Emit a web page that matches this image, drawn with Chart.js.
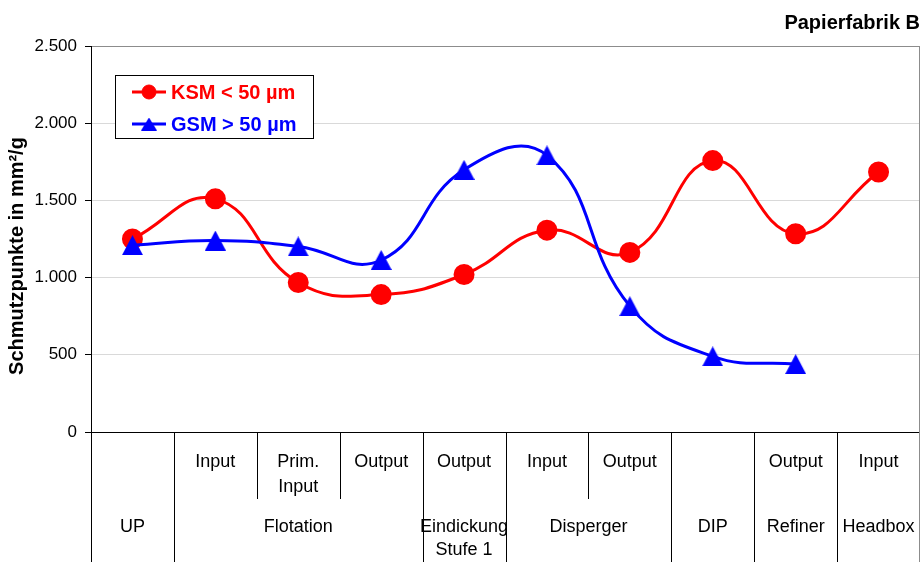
<!DOCTYPE html>
<html>
<head>
<meta charset="utf-8">
<script src="https://cdn.jsdelivr.net/npm/chart.js@4.4.0/dist/chart.umd.min.js"></script>
<style>
  html, body { margin: 0; padding: 0; background: #fff; }
  #wrap { width: 921px; height: 562px; }
</style>
</head>
<body>
<div id="wrap"><canvas id="dirtChart"></canvas></div>
<script>
// Messstellen: obere Zeile (Stelle), untere Zeile (Aggregat)
const stations = ['', 'Input', ['Prim.', 'Input'], 'Output', 'Output', 'Input', 'Output', '', 'Output', 'Input'];
const units = ['UP', 'Flotation', 'Flotation', 'Flotation', 'Eindickung\nStufe 1', 'Disperger', 'Disperger', 'DIP', 'Refiner', 'Headbox'];

// Schmutzpunktfläche in mm²/g
const ksm = [1250, 1510, 968, 890, 1020, 1307, 1163, 1758, 1284, 1684];
const gsm = [1210, 1240, 1202, 1114, 1698, 1792, 815, 490, 440, null];

const yTicks = [0, 500, 1000, 1500, 2000, 2500];

const FONT = '"Liberation Sans", Arial, sans-serif';

function fmtDe(v) {
  return String(v).replace(/\B(?=(\d{3})+(?!\d))/g, '.');
}

// Dreieck als Bild, mittig auf dem Punkt (wie Excel-Marker)
function makeTriangle(w, h, color) {
  const c = document.createElement('canvas');
  c.width = w;
  c.height = h;
  const g = c.getContext('2d');
  g.fillStyle = color;
  g.beginPath();
  g.moveTo(w / 2, 0);
  g.lineTo(w, h);
  g.lineTo(0, h);
  g.closePath();
  g.fill();
  return c;
}

const triMarker = makeTriangle(21, 20, '#0000ff');
const triLegend = makeTriangle(16, 13, '#0000ff');

// zweizeilige Kategorienachse mit Trennlinien
const categoryTable = {
  id: 'categoryTable',
  afterDraw(chart) {
    const ctx = chart.ctx;
    const x = chart.scales.x;
    const area = chart.chartArea;
    const n = units.length;
    const step = (area.right - area.left) / n;
    const bottom = chart.height;
    const shortEnd = area.bottom + 67;

    ctx.save();
    ctx.lineWidth = 1;
    ctx.strokeStyle = '#000';
    ctx.beginPath();
    ctx.moveTo(area.left + 0.5, area.bottom);
    ctx.lineTo(area.left + 0.5, bottom);
    for (let i = 1; i < n; i++) {
      const bx = Math.round(x.getPixelForValue(i) - step / 2) + 0.5;
      ctx.moveTo(bx, area.bottom);
      ctx.lineTo(bx, units[i] === units[i - 1] ? shortEnd : bottom);
    }
    ctx.stroke();

    // rechter Rahmen
    ctx.strokeStyle = '#8c8c8c';
    ctx.beginPath();
    ctx.moveTo(area.right - 0.5, area.top);
    ctx.lineTo(area.right - 0.5, bottom);
    ctx.stroke();

    ctx.fillStyle = '#000';
    ctx.font = '18px ' + FONT;
    ctx.textAlign = 'center';
    ctx.textBaseline = 'middle';
    stations.forEach((s, i) => {
      const lines = Array.isArray(s) ? s : [s];
      const cx = x.getPixelForValue(i);
      lines.forEach((t, k) => ctx.fillText(t, cx, area.bottom + 30 + k * 25));
    });

    // Aggregate über zusammenhängende Kategorien zentrieren
    let start = 0;
    for (let i = 1; i <= n; i++) {
      if (i === n || units[i] !== units[start]) {
        const cx = (x.getPixelForValue(start) + x.getPixelForValue(i - 1)) / 2;
        units[start].split('\n').forEach((t, k) => ctx.fillText(t, cx, area.bottom + 95 + k * 23));
        start = i;
      }
    }

    // Achsentitel
    ctx.font = 'bold 20px ' + FONT;
    ctx.translate(17, 256);
    ctx.rotate(-Math.PI / 2);
    ctx.fillText('Schmutzpunkte in mm²/g', 0, 0);
    ctx.restore();
  }
};

// Legende mit Linie + Marker im Rahmen
const boxLegend = {
  id: 'boxLegend',
  afterDraw(chart) {
    const ctx = chart.ctx;
    const area = chart.chartArea;
    const bx = area.left + 24, by = area.top + 29, bw = 198, bh = 63;
    ctx.save();
    ctx.fillStyle = '#fff';
    ctx.fillRect(bx, by, bw, bh);
    ctx.strokeStyle = '#000';
    ctx.lineWidth = 1;
    ctx.strokeRect(bx + 0.5, by + 0.5, bw, bh);
    chart.data.datasets.forEach((ds, i) => {
      const y = by + 17 + i * 32;
      ctx.strokeStyle = ds.borderColor;
      ctx.fillStyle = ds.backgroundColor;
      ctx.lineWidth = 3;
      ctx.beginPath();
      ctx.moveTo(bx + 17, y);
      ctx.lineTo(bx + 51, y);
      ctx.stroke();
      ctx.lineWidth = 1;
      Chart.helpers.drawPoint(ctx, {
        pointStyle: ds.pointStyle === 'circle' ? 'circle' : triLegend,
        radius: 7,
        rotation: 0,
        borderWidth: 1
      }, bx + 34, y);
      ctx.fillStyle = ds.borderColor;
      ctx.font = 'bold 20px ' + FONT;
      ctx.textAlign = 'left';
      ctx.textBaseline = 'middle';
      ctx.fillText(ds.label, bx + 56, y + 1);
    });
    ctx.restore();
  }
};

new Chart(document.getElementById('dirtChart'), {
  type: 'line',
  data: {
    labels: units.map((u, i) => u + ' ' + (Array.isArray(stations[i]) ? stations[i].join(' ') : stations[i])),
    datasets: [{
      label: 'KSM < 50 µm',
      data: ksm,
      borderColor: '#ff0000',
      backgroundColor: '#ff0000',
      borderWidth: 3,
      pointStyle: 'circle',
      pointRadius: 9,
      pointHoverRadius: 9,
      tension: 0.45,
      order: 1
    }, {
      label: 'GSM > 50 µm',
      data: gsm,
      borderColor: '#0000ff',
      backgroundColor: '#0000ff',
      borderWidth: 3,
      pointStyle: triMarker,
      pointRadius: 10,
      pointHoverRadius: 10,
      tension: 0.45,
      order: 0
    }]
  },
  options: {
    responsive: true,
    maintainAspectRatio: false,
    animation: false,
    layout: { autoPadding: false, padding: { bottom: 130, right: 1 } },
    plugins: {
      legend: { display: false },
      tooltip: { enabled: false },
      title: {
        display: true,
        text: 'Papierfabrik B',
        align: 'end',
        color: '#000',
        font: { family: FONT, size: 20, weight: 'bold' },
        padding: { top: 11, bottom: 11 }
      }
    },
    scales: {
      x: {
        type: 'category',
        offset: true,
        display: false
      },
      y: {
        min: yTicks[0],
        max: yTicks[yTicks.length - 1],
        afterFit(scale) { scale.width = 91; },
        afterBuildTicks(scale) { scale.ticks = yTicks.map(v => ({ value: v })); },
        border: { color: '#000', width: 1 },
        grid: {
          tickLength: 6,
          tickColor: '#000',
          color: c => c.tick.value === 0 ? '#000' : (c.tick.value === 2500 ? '#8c8c8c' : '#d9d9d9'),
          lineWidth: 1
        },
        ticks: {
          color: '#000',
          padding: 8,
          font: { family: FONT, size: 17 },
          callback: v => fmtDe(v)
        }
      }
    }
  },
  plugins: [categoryTable, boxLegend]
});
</script>
</body>
</html>
